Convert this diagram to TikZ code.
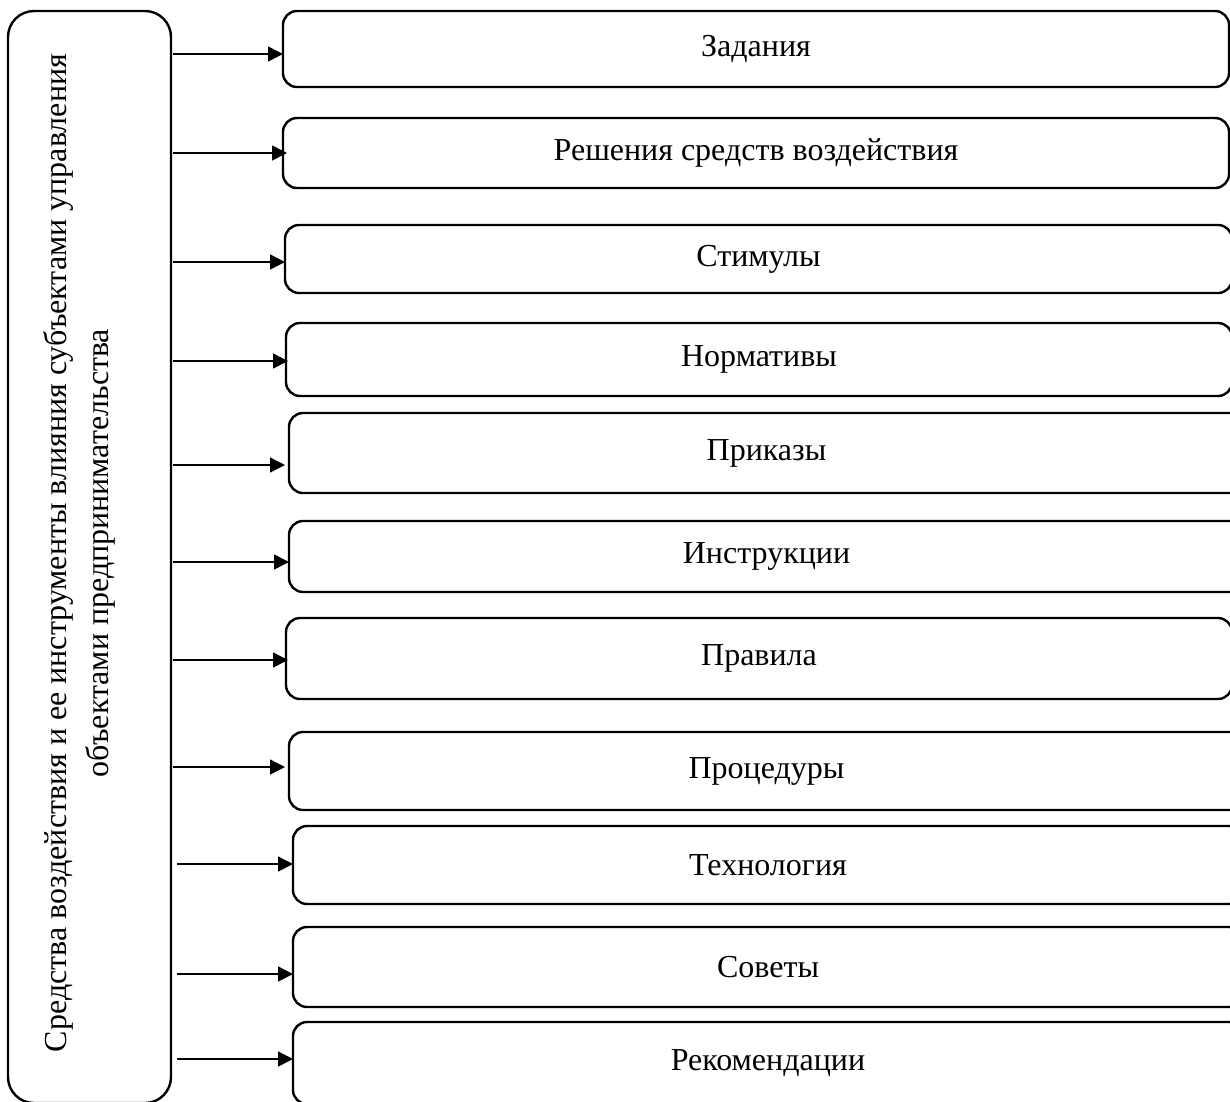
\documentclass[tikz,border=0pt]{standalone}
\usepackage{fontspec}
\setmainfont{Liberation Serif}
\usetikzlibrary{arrows.meta}
\begin{document}
\begin{tikzpicture}[x=1pt,y=-1pt,
  itembox/.style={draw,line width=2.4pt,rounded corners=14pt,anchor=north west,inner sep=0pt,outer sep=0pt,
    font=\fontsize{32}{38}\selectfont},
  mainbox/.style={draw,line width=2.4pt,rounded corners=26pt,anchor=north west,inner sep=0pt,outer sep=0pt},
  arr/.style={line width=1.5pt,-{Triangle[length=15pt,width=15pt]}}]
\useasboundingbox (0,0) rectangle (1230,1101);
\clip (0,0) rectangle (1230,1101);
\node[mainbox,minimum width=163pt,minimum height=1092pt] (L) at (8,11) {};
\node[rotate=90,align=center,font=\fontsize{32}{42}\selectfont] (Lt) at (79,553)
  {Средства воздействия и ее инструменты влияния субъектами управления\\объектами предпринимательства};
\node[itembox,minimum width=946pt,minimum height=76pt] (b1) at (283,11) {Задания};
\node[itembox,minimum width=946pt,minimum height=70pt] (b2) at (283,118) {Решения средств воздействия};
\node[itembox,minimum width=947pt,minimum height=68pt] (b3) at (285,225) {Стимулы};
\node[itembox,minimum width=946pt,minimum height=73pt] (b4) at (286,323) {Нормативы};
\node[itembox,minimum width=955pt,minimum height=80pt] (b5) at (289,413) {Приказы};
\node[itembox,minimum width=955pt,minimum height=71pt] (b6) at (289,521) {Инструкции};
\node[itembox,minimum width=946pt,minimum height=81pt] (b7) at (286,618) {Правила};
\node[itembox,minimum width=955pt,minimum height=78pt] (b8) at (289,732) {Процедуры};
\node[itembox,minimum width=950pt,minimum height=78pt] (b9) at (293,826) {Технология};
\node[itembox,minimum width=950pt,minimum height=80pt] (b10) at (293,927) {Советы};
\node[itembox,minimum width=950pt,minimum height=82pt] (b11) at (293,1022) {Рекомендации};
\coordinate (s1) at (173,54);
\coordinate (s2) at (173,153);
\coordinate (s3) at (173,262);
\coordinate (s4) at (173,361);
\coordinate (s5) at (173,465);
\coordinate (s6) at (173,562);
\coordinate (s7) at (173,660);
\coordinate (s8) at (173,767);
\coordinate (s9) at (177,864);
\coordinate (s10) at (177,974);
\coordinate (s11) at (177,1059);
\draw[arr] (s1) -- (b1.west |- s1);
\draw[arr] (s2) -- ([xshift=4pt]b2.west |- s2);
\draw[arr] (s3) -- (b3.west |- s3);
\draw[arr] (s4) -- ([xshift=2pt]b4.west |- s4);
\draw[arr] (s5) -- ([xshift=-4pt]b5.west |- s5);
\draw[arr] (s6) -- (b6.west |- s6);
\draw[arr] (s7) -- ([xshift=2pt]b7.west |- s7);
\draw[arr] (s8) -- ([xshift=-4pt]b8.west |- s8);
\draw[arr] (s9) -- (b9.west |- s9);
\draw[arr] (s10) -- (b10.west |- s10);
\draw[arr] (s11) -- (b11.west |- s11);
\end{tikzpicture}
\end{document}
